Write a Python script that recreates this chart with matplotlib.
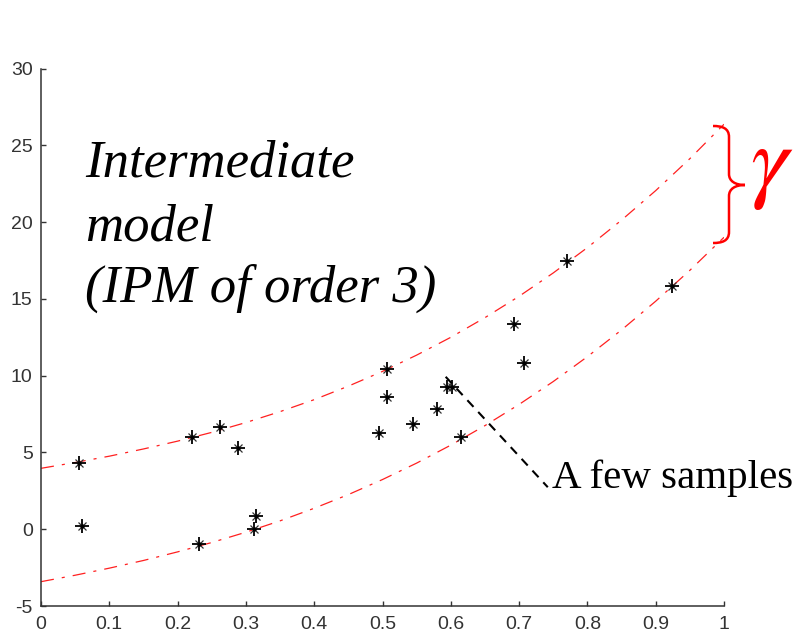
import numpy as np
import matplotlib
matplotlib.use("Agg")
import matplotlib.pyplot as plt
from matplotlib.path import Path
from matplotlib.patches import PathPatch

# sample points
sample_x = [0.056, 0.060, 0.221, 0.232, 0.262, 0.288, 0.315, 0.312, 0.495, 0.507,
            0.506, 0.544, 0.580, 0.594, 0.602, 0.615, 0.693, 0.707, 0.770, 0.924]
sample_y = [4.34, 0.23, 5.99, -0.98, 6.68, 5.27, 0.89, 0.02, 6.29, 10.45,
            8.63, 6.84, 7.83, 9.28, 9.28, 5.99, 13.37, 10.81, 17.47, 15.84]

# upper / lower bound of the model band (dash-dot red curves)
band_x = [0.0, 0.05, 0.1, 0.15, 0.2, 0.25, 0.3, 0.35, 0.4, 0.45, 0.5,
          0.55, 0.6, 0.65, 0.7, 0.75, 0.8, 0.85, 0.9, 0.95, 1.0]
upper_y = [3.97, 4.35, 4.76, 5.23, 5.74, 6.31, 6.95, 7.66, 8.44, 9.32, 10.28,
           11.34, 12.50, 13.78, 15.17, 16.69, 18.34, 20.13, 22.05, 24.13, 26.37]
lower_y = [-3.41, -2.99, -2.53, -2.03, -1.47, -0.86, -0.19, 0.55, 1.37, 2.26, 3.24,
           4.31, 5.48, 6.75, 8.13, 9.62, 11.24, 12.98, 14.85, 16.86, 19.01]

xticks = [0, 0.1, 0.2, 0.3, 0.4, 0.5, 0.6, 0.7, 0.8, 0.9, 1]
xtick_labels = ["0", "0.1", "0.2", "0.3", "0.4", "0.5", "0.6", "0.7", "0.8", "0.9", "1"]
yticks = [-5, 0, 5, 10, 15, 20, 25, 30]

plt.rcParams['lines.scale_dashes'] = False
plt.rcParams['axes.unicode_minus'] = False
plt.rcParams['mathtext.fontset'] = 'stix'
W, H = 798, 636
fig = plt.figure(figsize=(W / 100, H / 100), dpi=100)
ax = fig.add_axes([41 / W, 1 - 606.1 / H, 683 / W, (606.1 - 68.5) / H])

red = '#ff2020'
ax.plot(band_x, upper_y, color=red, lw=0.9, linestyle=(0, (9.4, 5.8, 2.2, 5.8)))
ax.plot(band_x, lower_y, color=red, lw=0.9, linestyle=(0, (9.4, 5.8, 2.2, 5.8)))

# matlab style '*' markers
ax.plot(sample_x, sample_y, linestyle='none', marker='+', ms=10.5, mew=1.3, color='black')
ax.plot(sample_x, sample_y, linestyle='none', marker='x', ms=6, mew=0.9, color='#333333')
ax.plot(sample_x, sample_y, linestyle='none', marker='o', ms=3.2, mew=0, color='black')

ax.set_xlim(0, 1)
ax.set_ylim(-5, 30)
ax.set_xticks(xticks)
ax.set_xticklabels(xtick_labels)
ax.set_yticks(yticks)
for s in ['top', 'right']:
    ax.spines[s].set_visible(False)
for s in ['left', 'bottom']:
    ax.spines[s].set_color('#333333')
    ax.spines[s].set_linewidth(1.1)
ax.tick_params(direction='in', length=3.6, width=1, color='#333333',
               labelsize=14, labelcolor='#333333')
ax.tick_params(axis='y', pad=6)
ax.tick_params(axis='x', pad=7)
for lab in ax.get_xticklabels() + ax.get_yticklabels():
    lab.set_family('Liberation Sans')

serif = 'Liberation Serif'
ax.text(0.0644, 22.97, 'Intermediate', family=serif, style='italic', fontsize=38)
ax.text(0.0644, 18.77, 'model', family=serif, style='italic', fontsize=38)
ax.text(0.0644, 14.80, '(IPM of order 3)', family=serif, style='italic', fontsize=38)

# "A few samples" pointer
ax.plot([0.5925, 0.742], [9.93, 2.74], color='black', lw=1.5, linestyle=(0, (6.5, 5)))
ax.text(0.748, 3.34, 'A few samples', family=serif, fontsize=29.5, ha='left', va='center')

# brace and gamma on the right, drawn in figure pixels
def fp(px, py):
    return (px / W, 1 - py / H)

verts = [fp(713, 126), fp(722, 126), fp(729, 128), fp(729, 137),
         fp(729, 174),
         fp(729, 181), fp(735, 185), fp(745, 185),
         fp(735, 185), fp(729, 189), fp(729, 196),
         fp(729, 232),
         fp(729, 241), fp(722, 243), fp(713, 243)]
codes = [Path.MOVETO, Path.CURVE4, Path.CURVE4, Path.CURVE4,
         Path.LINETO,
         Path.CURVE4, Path.CURVE4, Path.CURVE4,
         Path.CURVE4, Path.CURVE4, Path.CURVE4,
         Path.LINETO,
         Path.CURVE4, Path.CURVE4, Path.CURVE4]
fig.patches.append(PathPatch(Path(verts, codes), transform=fig.transFigure,
                             facecolor='none', edgecolor='red', lw=1.8))
fig.text(*fp(750, 190), r'$\gamma$', fontsize=68,
         color='red', ha='left', va='baseline')

fig.savefig('out.png', dpi=100)
